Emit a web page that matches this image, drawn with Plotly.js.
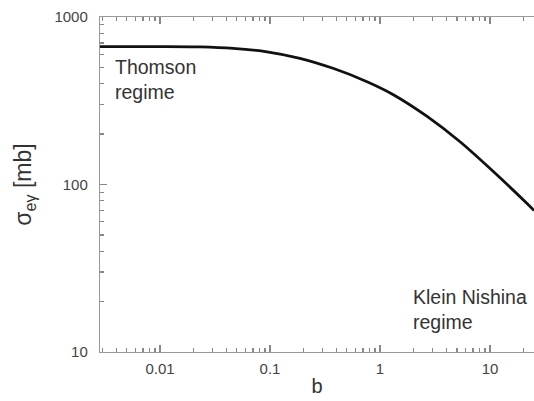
<!DOCTYPE html>
<html>
<head>
<meta charset="utf-8">
<script src="https://cdn.plot.ly/plotly-3.0.1.min.js"></script>
<style>
  html, body { margin: 0; padding: 0; background: #fff; }
  #chart { width: 534px; height: 401px; }
</style>
</head>
<body>
<div id="chart"></div>
<script>
// Electron–photon cross section versus b (log–log)
const bValues = [0.00285, 0.01, 0.0231, 0.0461, 0.0939, 0.187, 0.374, 0.762, 1.31, 2.68, 5.34, 10.65, 21.7, 25.1];
const sigmaValues = [666, 666, 663, 650, 620, 567, 494, 411, 345, 255, 180, 120, 77, 70];

const xTickVals = [0.01, 0.1, 1, 10];
const xTickText = ['0.01', '0.1', '1', '10'];
const yTickVals = [10, 100, 1000];
const yTickText = ['10', '100', '1000'];

// minor tick positions: 2..9 within each decade
const xMinorVals = [];
const yMinorVals = [];
[0.001, 0.01, 0.1, 1, 10].forEach(d => { for (let m = 2; m <= 9; m++) xMinorVals.push(m * d); });
[10, 100].forEach(d => { for (let m = 2; m <= 9; m++) yMinorVals.push(m * d); });

const xRange = [Math.log10(0.00285), Math.log10(25.1)];
const yRange = [1, 3];

const family = 'Liberation Sans, Arial, sans-serif';
const labelFont = { family: family, size: 15, color: '#444' };
const noteFont = { family: family, size: 19.5, color: '#333' };

const curve = {
  x: bValues,
  y: sigmaValues,
  mode: 'lines',
  line: { color: '#111', width: 2.8, shape: 'spline', smoothing: 0.8 },
  hoverinfo: 'skip',
  showlegend: false
};

// same curve on the overlay axes that carry the minor ticks (kept transparent)
const minorCarrier = Object.assign({}, curve, { xaxis: 'x2', yaxis: 'y2', opacity: 0 });

const axisCommon = {
  type: 'log',
  showgrid: false,
  zeroline: false,
  showline: true,
  linecolor: '#999',
  linewidth: 1.2,
  ticks: 'inside',
  tickcolor: '#888',
  tickwidth: 1.2,
  tickfont: labelFont
};

const layout = {
  width: 534,
  height: 401,
  margin: { l: 100, r: 0, t: 17, b: 49 },
  paper_bgcolor: '#fff',
  plot_bgcolor: '#fff',
  xaxis: Object.assign({}, axisCommon, {
    range: xRange,
    tickmode: 'array',
    tickvals: xTickVals,
    ticktext: xTickText,
    ticklen: 7,
    mirror: 'allticks',
    ticklabelstandoff: 3,
    title: { text: 'b', font: { family: family, size: 20, color: '#333' }, standoff: 2 }
  }),
  yaxis: Object.assign({}, axisCommon, {
    range: yRange,
    tickmode: 'array',
    tickvals: yTickVals,
    ticktext: yTickText,
    ticklen: 7,
    ticklabelstandoff: 8,
    title: { text: 'σ<sub>eγ</sub> [mb]', font: { family: family, size: 23, color: '#333' }, standoff: 16 }
  }),
  xaxis2: Object.assign({}, axisCommon, {
    overlaying: 'x',
    anchor: 'y2',
    side: 'bottom',
    range: xRange,
    tickmode: 'array',
    tickvals: xMinorVals,
    ticklen: 4,
    mirror: 'allticks',
    showticklabels: false
  }),
  yaxis2: Object.assign({}, axisCommon, {
    overlaying: 'y',
    anchor: 'x2',
    side: 'left',
    range: yRange,
    tickmode: 'array',
    tickvals: yMinorVals,
    ticklen: 4,
    showticklabels: false
  }),
  annotations: [
    { text: 'Thomson<br>regime', xref: 'paper', yref: 'paper', x: 0.030, y: 0.812,
      xanchor: 'left', yanchor: 'middle', align: 'left', showarrow: false, font: noteFont },
    { text: 'Klein Nishina<br>regime', xref: 'paper', yref: 'paper', x: 0.717, y: 0.128,
      xanchor: 'left', yanchor: 'middle', align: 'left', showarrow: false, font: noteFont }
  ]
};

Plotly.newPlot('chart', [curve, minorCarrier], layout, { displayModeBar: false, staticPlot: true });
</script>
</body>
</html>
